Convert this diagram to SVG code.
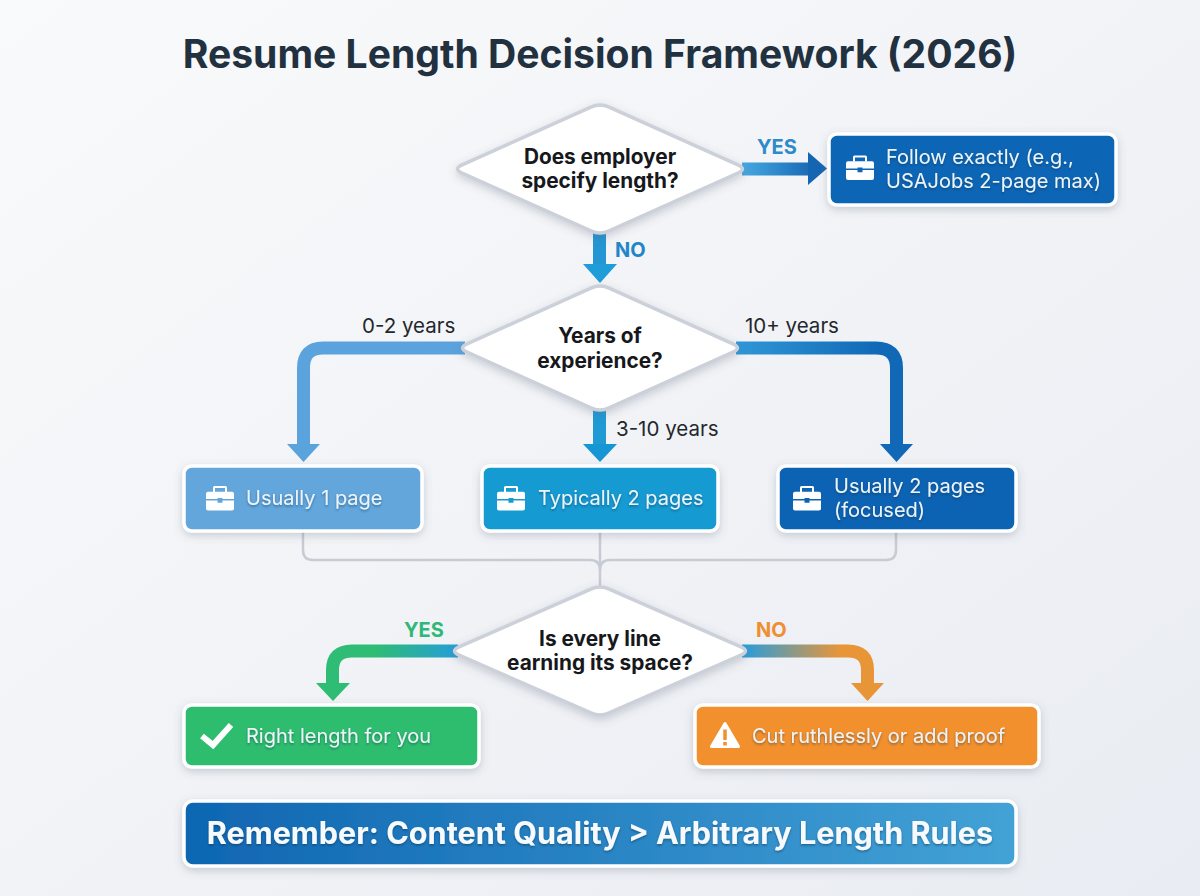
<svg xmlns="http://www.w3.org/2000/svg" width="1200" height="896" viewBox="0 0 1200 896">
<style>
text{font-family:"Inter","Liberation Sans",sans-serif}
.title{font-size:39.100px;font-weight:700;fill:#22313f;text-anchor:middle}
.q{font-size:20.800px;font-weight:700;fill:#16181c;text-anchor:middle}
.t{font-size:20px;fill:#edf4f9;filter:url(#ts)}
.lab{font-size:20.500px;fill:#23272d}
.yn{font-size:20px;font-weight:700}
.banner{font-size:30.600px;font-weight:700;fill:#f6fafd;text-anchor:middle;filter:url(#ts)}
.dia{fill:#fff;stroke:#ccd0d9;stroke-width:3.5;stroke-linejoin:round;filter:url(#sd)}
.box{stroke:#fff;stroke-width:3.5;filter:url(#sd)}
.arr{fill:none;stroke-width:13}
.merge{fill:none;stroke:#c6cbd4;stroke-width:2.5}
.ico{fill:#fff}
</style>
<defs>
<linearGradient id="bg" x1="0" y1="0" x2="1" y2="1"><stop offset="0" stop-color="#f9fafb"/><stop offset="1" stop-color="#e9ecf2"/></linearGradient>
<filter id="sd" x="-10%" y="-20%" width="120%" height="145%"><feDropShadow dx="0" dy="3" stdDeviation="4" flood-color="#5a6478" flood-opacity=".28"/></filter>
<filter id="ts" x="-5%" y="-30%" width="110%" height="170%"><feDropShadow dx="0" dy="1.5" stdDeviation="1.2" flood-color="#0a2a45" flood-opacity=".45"/></filter>
<linearGradient id="gY" gradientUnits="userSpaceOnUse" x1="745" y1="0" x2="815" y2="0"><stop offset="0" stop-color="#45a6e0"/><stop offset="1" stop-color="#1566b2"/></linearGradient>
<linearGradient id="gR" gradientUnits="userSpaceOnUse" x1="740" y1="0" x2="880" y2="0"><stop offset="0" stop-color="#2f96d6"/><stop offset="1" stop-color="#1068b6"/></linearGradient>
<linearGradient id="gG" gradientUnits="userSpaceOnUse" x1="455" y1="0" x2="375" y2="0"><stop offset="0" stop-color="#259fd5"/><stop offset="1" stop-color="#2fbc74"/></linearGradient>
<linearGradient id="gO" gradientUnits="userSpaceOnUse" x1="745" y1="0" x2="840" y2="0"><stop offset="0" stop-color="#2c9dd8"/><stop offset="1" stop-color="#e89538"/></linearGradient>
<linearGradient id="gB" x1="0" y1="0" x2="1" y2="0"><stop offset="0" stop-color="#0f66b2"/><stop offset="1" stop-color="#43a2d6"/></linearGradient>
<g id="case"><path class="ico" fill-rule="evenodd" d="M-5.500-12.500h11a1.500 1.500 0 0 1 1.500 1.500v4.500h-2v-4h-10v4h-2v-4.500a1.500 1.500 0 0 1 1.500-1.500z"/><path class="ico" d="M-14-4.800a2 2 0 0 1 2-2h24a2 2 0 0 1 2 2v5.300h-11.500v-1h-5v1h-11.500z"/><path class="ico" d="M-14 2h11.500v2.300h5v-2.300h11.500v8a2 2 0 0 1-2 2h-24a2 2 0 0 1-2-2z"/></g>
</defs>
<rect width="1200" height="896" fill="url(#bg)"/>
<text class="title" x="600" y="68">Resume Length Decision Framework (2026)</text>

<g id="connectors">
<path class="merge" d="M303 532V550Q303 560 313 560H590Q600 560 600 570M896 532V550Q896 560 886 560H610Q600 560 600 570M600 532V590"/>
<path class="arr" stroke="url(#gY)" d="M742 169H810"/><polygon fill="#1566b2" points="808,152 827,168.500 808,185"/>
<path class="arr" stroke="#2396d3" d="M599.500 230V266"/><polygon fill="#1e9dd9" points="583,264 617,264 600,283"/>
<path class="arr" stroke="#5ba3dc" d="M465 348H323Q303.500 348 303.500 368V446"/><polygon fill="#5ba3dc" points="287,444 320,444 303.500,462"/>
<path class="arr" stroke="#1f9ad5" d="M599.500 408V446"/><polygon fill="#1597d3" points="583,444 617,444 600,462"/>
<path class="arr" stroke="url(#gR)" d="M736 348H876Q896.500 348 896.500 368V446"/><polygon fill="#1068b6" points="880,444 913,444 896.500,462"/>
<path class="arr" stroke="url(#gG)" d="M458 651H352Q332.500 651 332.500 670V685"/><polygon fill="#2fbc74" points="316,683 350,683 333,701"/>
<path class="arr" stroke="url(#gO)" d="M742 651H848Q867.500 651 867.500 670V685"/><polygon fill="#e89538" points="851,683 884,683 867.500,701"/>
</g>

<g id="d1"><path class="dia" d="M590.900 107.100Q600 103 609.100 107.100L737.900 164.900Q747 169 737.900 173.100L609.100 230.900Q600 235 590.900 230.900L462.100 173.100Q453 169 462.100 164.900Z"/><text class="q" x="600" y="164">Does employer</text><text class="q" x="600" y="188">specify length?</text></g>
<g id="d2"><path class="dia" d="M590.900 288.100Q600 284 609.100 288.100L732.900 343.900Q742 348 732.900 352.100L609.100 407.900Q600 412 590.900 407.900L467.100 352.100Q458 348 467.100 343.900Z"/><text class="q" x="600" y="343">Years of</text><text class="q" x="600" y="368">experience?</text></g>
<g id="d3"><path class="dia" d="M590.900 589.100Q600 585 609.100 589.100L740.900 646.900Q750 651 740.900 655.100L609.100 712.900Q600 717 590.900 712.900L459.100 655.100Q450 651 459.100 646.900Z"/><text class="q" x="600" y="646">Is every line</text><text class="q" x="600" y="670">earning its space?</text></g>

<g id="n-follow"><rect class="box" x="829" y="134" width="287" height="71" rx="8" fill="#0b66b5"/><use href="#case" x="860" y="168"/><text class="t" x="886" y="164">Follow exactly (e.g.,</text><text class="t" x="886" y="188">USAJobs 2-page max)</text></g>
<g id="n-one"><rect class="box" x="184" y="466" width="238" height="65" rx="8" fill="#62a6dc"/><use href="#case" x="220" y="498.500"/><text class="t" x="246" y="505">Usually 1 page</text></g>
<g id="n-two"><rect class="box" x="482" y="466" width="236" height="65" rx="8" fill="#149ad2"/><use href="#case" x="511" y="498.500"/><text class="t" x="538" y="505">Typically 2 pages</text></g>
<g id="n-focus"><rect class="box" x="778" y="466" width="238" height="65" rx="8" fill="#0b64b3"/><use href="#case" x="807" y="498.500"/><text class="t" x="834" y="493">Usually 2 pages</text><text class="t" x="834" y="517">(focused)</text></g>
<g id="n-right"><rect class="box" x="184" y="705" width="295" height="62" rx="8" fill="#2dbd6e"/><path d="M202 736L213 745L231 725" fill="none" stroke="#fff" stroke-width="6"/><text class="t" x="246" y="743">Right length for you</text></g>
<g id="n-cut"><rect class="box" x="695" y="705" width="344" height="62" rx="8" fill="#f2902e"/><path class="ico" d="M725 723.500L738.500 746.500H711.500Z" stroke="#fff" stroke-width="3" stroke-linejoin="round"/><path d="M725 729.500V740M725 742V745.500" stroke="#f2902e" stroke-width="3.500" fill="none"/><text class="t" x="752" y="743">Cut ruthlessly or add proof</text></g>
<g id="n-banner"><rect class="box" x="184" y="801" width="832" height="65" rx="9" fill="url(#gB)"/><text class="banner" x="600" y="844">Remember: Content Quality &gt; Arbitrary Length Rules</text></g>

<g id="labels">
<text class="yn" x="757" y="154" fill="#2d8bcb">YES</text>
<text class="yn" x="615" y="257" fill="#2186c5">NO</text>
<text class="lab" x="362" y="333">0-2 years</text>
<text class="lab" x="745" y="333">10+ years</text>
<text class="lab" x="616" y="436">3-10 years</text>
<text class="yn" x="404" y="637" fill="#2fb877">YES</text>
<text class="yn" x="756" y="637" fill="#ee8f31">NO</text>
</g>
</svg>
